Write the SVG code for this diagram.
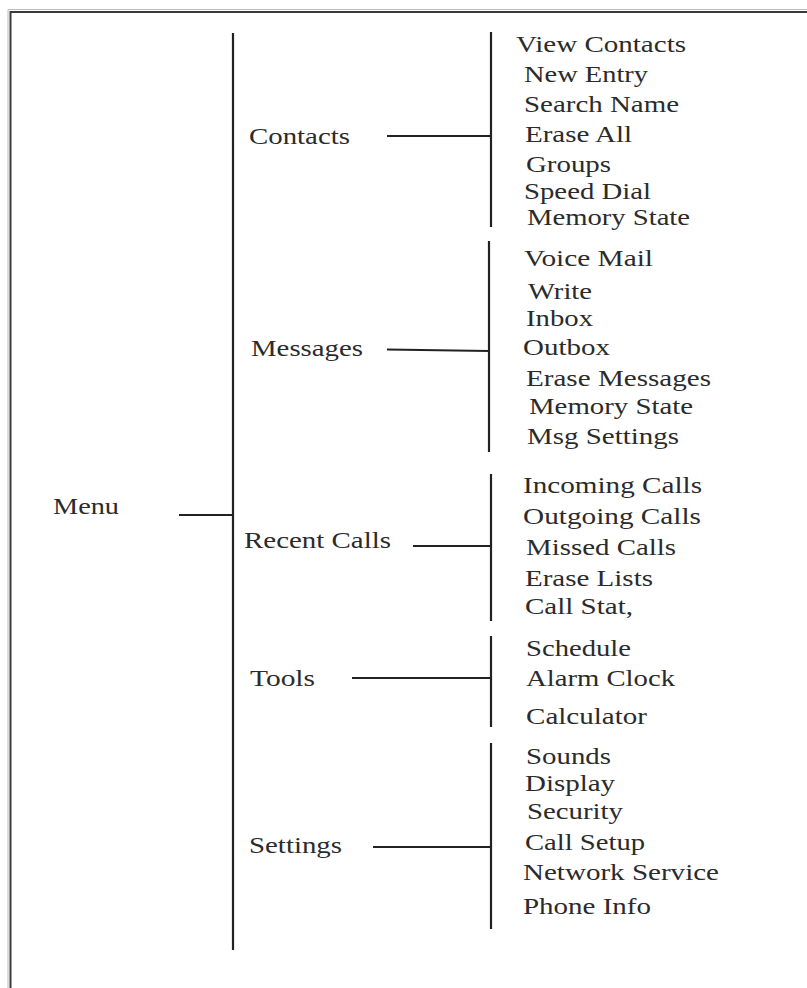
<svg xmlns="http://www.w3.org/2000/svg" width="807" height="988" viewBox="0 0 807 988">
<style>
text{font-family:"Liberation Serif","Times New Roman",serif;font-size:24px;fill:#2b2b2b}
.ln{stroke:#222;stroke-width:2.2;fill:none}
.frame{stroke:#3a3a3a;stroke-width:2;fill:none}
.shadow{stroke:#bbb;stroke-width:1;fill:none}
</style>
<rect width="807" height="988" fill="#fff"/>
<path class="shadow" d="M8,988 V9.5 H807"/>
<path class="frame" d="M10.5,988 V12 H807"/>
<g id="connectors">
<line class="ln" x1="233" y1="33" x2="233" y2="950"/>
<line class="ln" x1="179" y1="515" x2="233" y2="515"/>
<line class="ln" x1="387" y1="136" x2="491" y2="136"/>
<line class="ln" x1="491" y1="32" x2="491" y2="227"/>
<line class="ln" x1="387" y1="349.5" x2="489" y2="351"/>
<line class="ln" x1="489" y1="241" x2="489" y2="452"/>
<line class="ln" x1="413" y1="546" x2="491" y2="546"/>
<line class="ln" x1="491" y1="474" x2="491" y2="621"/>
<line class="ln" x1="352" y1="678" x2="491" y2="678"/>
<line class="ln" x1="491" y1="636" x2="491" y2="727"/>
<line class="ln" x1="373" y1="847" x2="491" y2="847"/>
<line class="ln" x1="491" y1="743" x2="491" y2="929"/>
</g>
<g id="menu"><text x="53" y="514" textLength="66" lengthAdjust="spacingAndGlyphs">Menu</text></g>
<g id="contacts"><text x="249" y="144" textLength="101" lengthAdjust="spacingAndGlyphs">Contacts</text></g>
<g id="messages"><text x="251" y="356" textLength="112" lengthAdjust="spacingAndGlyphs">Messages</text></g>
<g id="recent-calls"><text x="244" y="548" textLength="147" lengthAdjust="spacingAndGlyphs">Recent Calls</text></g>
<g id="tools"><text x="250" y="686" textLength="65" lengthAdjust="spacingAndGlyphs">Tools</text></g>
<g id="settings"><text x="249" y="853" textLength="93" lengthAdjust="spacingAndGlyphs">Settings</text></g>
<g id="contacts-items">
<text x="516" y="52" textLength="170" lengthAdjust="spacingAndGlyphs">View Contacts</text>
<text x="524" y="82" textLength="124" lengthAdjust="spacingAndGlyphs">New Entry</text>
<text x="524" y="112" textLength="155" lengthAdjust="spacingAndGlyphs">Search Name</text>
<text x="525" y="142" textLength="107" lengthAdjust="spacingAndGlyphs">Erase All</text>
<text x="526" y="172" textLength="85" lengthAdjust="spacingAndGlyphs">Groups</text>
<text x="524" y="199" textLength="127" lengthAdjust="spacingAndGlyphs">Speed Dial</text>
<text x="527" y="225" textLength="163" lengthAdjust="spacingAndGlyphs">Memory State</text>
</g>
<g id="messages-items">
<text x="524" y="266" textLength="129" lengthAdjust="spacingAndGlyphs">Voice Mail</text>
<text x="528" y="299" textLength="64" lengthAdjust="spacingAndGlyphs">Write</text>
<text x="526" y="326" textLength="67" lengthAdjust="spacingAndGlyphs">Inbox</text>
<text x="523" y="355" textLength="87" lengthAdjust="spacingAndGlyphs">Outbox</text>
<text x="526" y="386" textLength="185" lengthAdjust="spacingAndGlyphs">Erase Messages</text>
<text x="529" y="414" textLength="164" lengthAdjust="spacingAndGlyphs">Memory State</text>
<text x="527" y="444" textLength="152" lengthAdjust="spacingAndGlyphs">Msg Settings</text>
</g>
<g id="recent-calls-items">
<text x="523" y="493" textLength="179" lengthAdjust="spacingAndGlyphs">Incoming Calls</text>
<text x="523" y="524" textLength="178" lengthAdjust="spacingAndGlyphs">Outgoing Calls</text>
<text x="526" y="555" textLength="150" lengthAdjust="spacingAndGlyphs">Missed Calls</text>
<text x="525" y="586" textLength="128" lengthAdjust="spacingAndGlyphs">Erase Lists</text>
<text x="525" y="614" textLength="108" lengthAdjust="spacingAndGlyphs">Call Stat,</text>
</g>
<g id="tools-items">
<text x="526" y="656" textLength="105" lengthAdjust="spacingAndGlyphs">Schedule</text>
<text x="526" y="686" textLength="149" lengthAdjust="spacingAndGlyphs">Alarm Clock</text>
<text x="526" y="724" textLength="121" lengthAdjust="spacingAndGlyphs">Calculator</text>
</g>
<g id="settings-items">
<text x="526" y="764" textLength="85" lengthAdjust="spacingAndGlyphs">Sounds</text>
<text x="525" y="791" textLength="90" lengthAdjust="spacingAndGlyphs">Display</text>
<text x="527" y="819" textLength="96" lengthAdjust="spacingAndGlyphs">Security</text>
<text x="525" y="850" textLength="120" lengthAdjust="spacingAndGlyphs">Call Setup</text>
<text x="523" y="880" textLength="196" lengthAdjust="spacingAndGlyphs">Network Service</text>
<text x="523" y="914" textLength="128" lengthAdjust="spacingAndGlyphs">Phone Info</text>
</g>
</svg>
